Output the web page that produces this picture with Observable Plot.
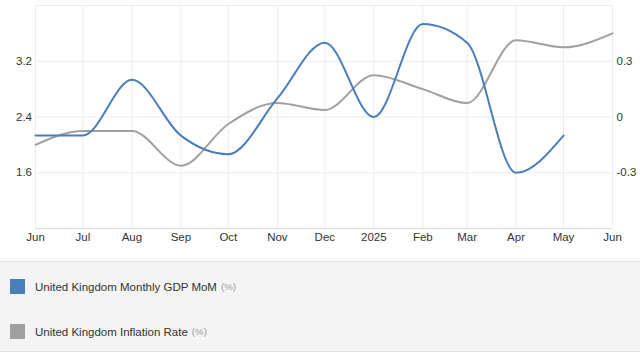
<!DOCTYPE html>
<html>
<head>
<meta charset="utf-8">
<script src="https://cdn.jsdelivr.net/npm/d3@7"></script>
<script src="https://cdn.jsdelivr.net/npm/@observablehq/plot@0.6"></script>
<style>
  html, body { margin: 0; padding: 0; background: #fff; }
  body { width: 640px; height: 355px; overflow: hidden; font-family: "Liberation Sans", Arial, sans-serif; }
  #chart svg { display: block; }
  .legend { margin-top: 11px; background: #f4f4f4; border-top: 1px solid #e2e2e2; border-bottom: 1px solid #e2e2e2; height: 89px; position: relative; }
  .item { position: absolute; left: 10px; display: flex; align-items: center; font-size: 11.5px; color: #333; }
  .sw { width: 15px; height: 15px; margin-right: 10px; }
  .unit { font-size: 9.7px; color: #999; margin-left: 4px; }
</style>
</head>
<body>
<div id="chart"></div>
<div class="legend">
  <div class="item" style="top:17px"><span class="sw" style="background:#4a7ebb"></span><span>United Kingdom Monthly GDP MoM</span><span class="unit">(%)</span></div>
  <div class="item" style="top:62px"><span class="sw" style="background:#a0a0a0"></span><span>United Kingdom Inflation Rate</span><span class="unit">(%)</span></div>
</div>
<script>
const months = ["2024-06-01","2024-07-01","2024-08-01","2024-09-01","2024-10-01","2024-11-01","2024-12-01","2025-01-01","2025-02-01","2025-03-01","2025-04-01","2025-05-01","2025-06-01"];
const monthLabels = ["Jun","Jul","Aug","Sep","Oct","Nov","Dec","2025","Feb","Mar","Apr","May","Jun"];
const gdpValues = [-0.1, -0.1, 0.2, -0.1, -0.2, 0.1, 0.4, 0.0, 0.5, 0.4, -0.3, -0.1];
const inflationValues = [2.0, 2.2, 2.2, 1.7, 2.3, 2.6, 2.5, 3.0, 2.8, 2.6, 3.5, 3.4, 3.6];
const leftTicks = [1.6, 2.4, 3.2];
const rightTicks = [-0.3, 0, 0.3];
const gridTicks = [0.8, 1.6, 2.4, 3.2, 4.0];

const parse = d3.utcParse("%Y-%m-%d");
const dates = months.map(parse);
const leftDomain = [0.8, 4.0];
const rightDomain = [-0.6, 0.6];
const toLeft = d3.scaleLinear().domain(rightDomain).range(leftDomain);

const gdp = gdpValues.map((v, i) => ({date: dates[i], value: v, y: toLeft(v)}));
const infl = inflationValues.map((v, i) => ({date: dates[i], value: v}));
const labelOf = new Map(dates.map((d, i) => [+d, monthLabels[i]]));

const chart = Plot.plot({
  width: 640,
  height: 250,
  marginTop: 5,
  marginBottom: 22,
  marginLeft: 35,
  marginRight: 28,
  style: {fontFamily: "'Liberation Sans', Arial, sans-serif", fontSize: "11.5px", color: "#333", background: "#fff"},
  x: {type: "utc", domain: [dates[0], dates[dates.length - 1]]},
  y: {domain: leftDomain},
  marks: [
    Plot.ruleX(dates, {stroke: "#ececec", strokeWidth: 1}),
    Plot.ruleY(gridTicks, {stroke: "#ececec", strokeWidth: 1}),
    Plot.ruleY([0.8], {stroke: "#dcdcdc", strokeWidth: 1}),
    Plot.axisX({ticks: dates, tickSize: 0, tickPadding: 4, tickFormat: d => labelOf.get(+d), fill: "#333"}),
    Plot.axisY({ticks: leftTicks, tickSize: 0, tickPadding: 3.5, tickFormat: d => d.toFixed(1), fill: "#333", label: null}),
    Plot.axisY({anchor: "right", ticks: rightTicks.map(toLeft), tickSize: 0, tickPadding: 4,
      tickFormat: d => { const v = Math.round(toLeft.invert(d) * 10) / 10; return v === 0 ? "0" : String(v); },
      fill: "#333", label: null}),
    Plot.line(infl, {x: "date", y: "value", stroke: "#a0a0a0", strokeWidth: 2, curve: "monotone-x"}),
    Plot.line(gdp, {x: "date", y: "y", stroke: "#4a7ebb", strokeWidth: 2, curve: "monotone-x"})
  ]
});
document.getElementById("chart").append(chart);
</script>
</body>
</html>
